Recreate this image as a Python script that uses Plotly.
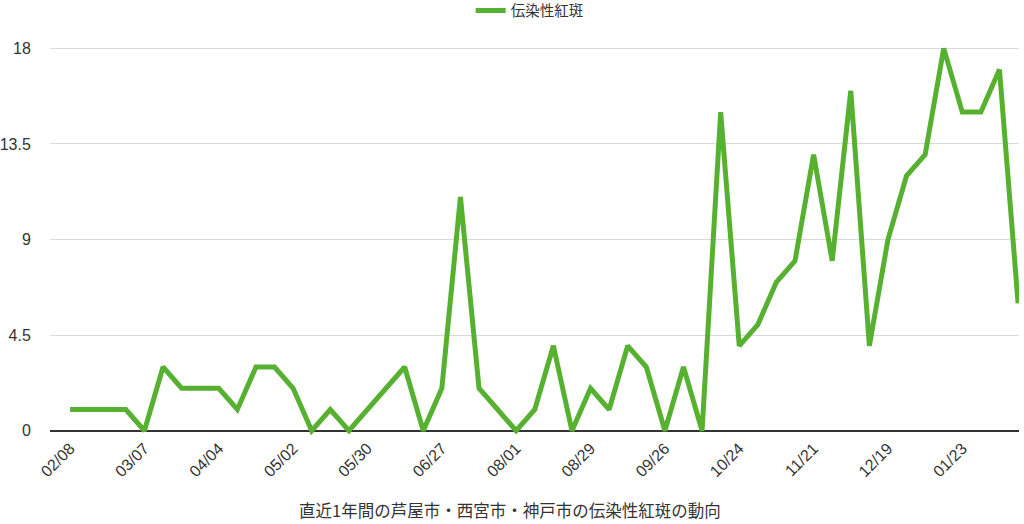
import plotly.graph_objects as go

# weekly counts, one point per week
weeks = list(range(52))
cases = [1, 1, 1, 1, 0, 3, 2, 2, 2, 1, 3, 3, 2, 0, 1, 0,
         1, 2, 3, 0, 2, 11, 2, 1, 0, 1, 4, 0, 2, 1, 4, 3,
         0, 3, 0, 15, 4, 5, 7, 8, 13, 8, 16, 4, 9, 12, 13, 18,
         15, 15, 17, 6]
tick_pos = list(range(0, 52, 4))
tick_labels = ["02/08", "03/07", "04/04", "05/02", "05/30", "06/27", "08/01",
               "08/29", "09/26", "10/24", "11/21", "12/19", "01/23"]
y_ticks = [0, 4.5, 9, 13.5, 18]
series_name = "伝染性紅斑"
title = "直近1年間の芦屋市・西宮市・神戸市の伝染性紅斑の動向"

jp_font = "Noto Sans CJK JP"
num_font = "Liberation Sans"

fig = go.Figure()
fig.add_trace(go.Scatter(x=weeks, y=cases, mode="lines", name=series_name,
                         line=dict(color="#57B131", width=5)))

fig.update_layout(
    width=1024, height=524,
    paper_bgcolor="white", plot_bgcolor="white",
    margin=dict(l=50, r=5, t=42, b=89, autoexpand=False),
    showlegend=True,
    legend=dict(orientation="h", x=0.495, xanchor="center", y=1.08, yanchor="middle",
                font=dict(family=jp_font, size=14.5, color="#333"),
                itemwidth=30),
    annotations=[dict(text=title, x=0.475, xref="paper", xanchor="center",
                      y=-0.19, yref="paper", yanchor="middle", showarrow=False,
                      font=dict(family=jp_font, size=16.5, color="#333"))],
)
fig.update_xaxes(range=[-1.08, 51.05], tickvals=tick_pos, ticktext=tick_labels,
                 tickangle=-45, showgrid=False, zeroline=False, automargin=False,
                 tickfont=dict(family=num_font, size=16, color="#333"),
                 ticks="", showline=False)
fig.update_yaxes(range=[-0.2, 18.3], tickvals=y_ticks, automargin=False,
                 tickfont=dict(family=num_font, size=16, color="#333"),
                 showgrid=True, gridcolor="#d9d9d9", gridwidth=1,
                 zeroline=True, zerolinecolor="#333", zerolinewidth=2,
                 ticks="outside", ticklen=15, tickcolor="white")

fig.write_html("out.html", config={"displayModeBar": False},
               post_script="document.body.style.margin='0';")
